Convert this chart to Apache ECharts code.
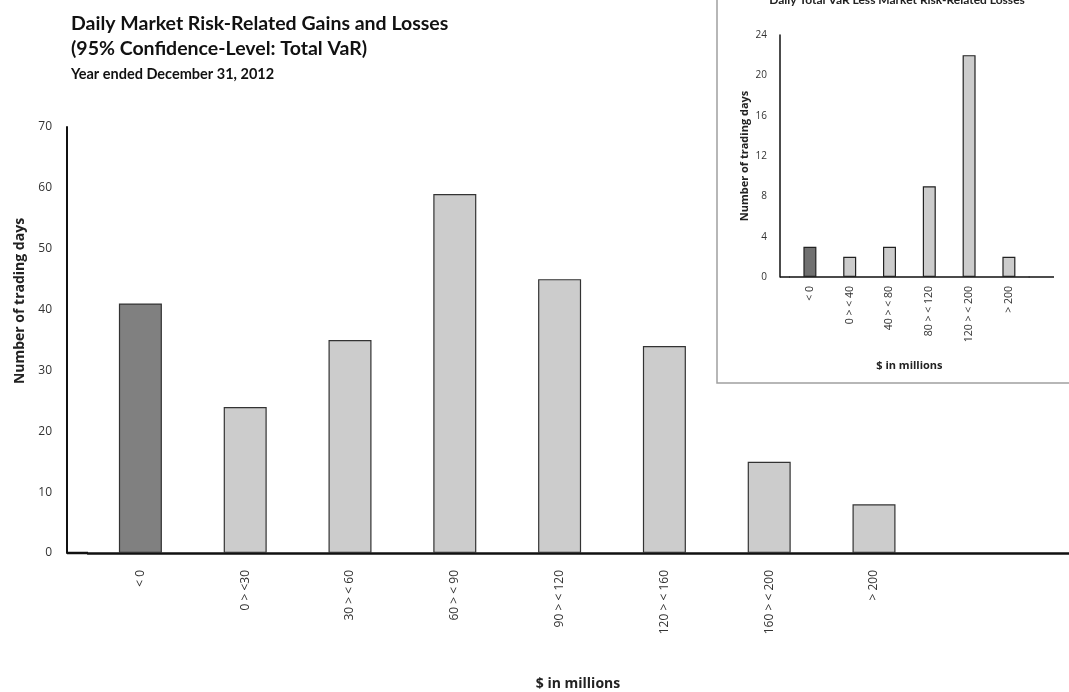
<!DOCTYPE html>
<html>
<head>
<meta charset="utf-8">
<script src="https://cdn.jsdelivr.net/npm/echarts@6/dist/echarts.min.js"></script>
<style>
  html, body { margin: 0; padding: 0; background: #ffffff; }
  #chart { width: 1069px; height: 692px; }
</style>
</head>
<body>
<div id="chart"></div>
<script>
// ---- Data ----
const mainCategories = ['< 0', '0 > <30', '30 > < 60', '60 > < 90', '90 > < 120', '120 > < 160', '160 > < 200', '> 200', '', ''];
const mainTradingDays = [41, 24, 35, 59, 45, 34, 15, 8];
const mainYMin = 0, mainYMax = 70, mainYInterval = 10;

const insetCategories = ['< 0', '0 > < 40', '40 > < 80', '80 > < 120', '120 > < 200', '> 200'];
const insetTradingDays = [3, 2, 3, 9, 22, 2];
const insetYMin = 0, insetYMax = 24, insetYInterval = 4;

const titleLines = ['Daily Market Risk-Related Gains and Losses', '(95% Confidence-Level: Total VaR)', 'Year ended December 31, 2012'];
const insetTitle = 'Daily Total VaR Less Market Risk-Related Losses';
const yAxisName = 'Number of trading days';
const xAxisName = '$ in millions';

// ---- Layout / style ----
const W = 1069, H = 692;
const lossColor = '#808080', gainColor = '#cccccc', insetLossColor = '#707070';
const FONT = 'Open Sans';
const TFONT = 'Lato';

// main grid
const mLeft = 88, mTop = 127, mBottom = 139, mCatW = 104.8;
const mWidth = mCatW * mainCategories.length;
const mYOffset = 21;
// inset grid
const iLeft = 790, iTop = 35, iBottom = H - 277, iCatW = 39.8;
const iWidth = iCatW * insetCategories.length;
const iYOffset = 10;

const chart = echarts.init(document.getElementById('chart'), null, { renderer: 'canvas', width: W, height: H });

const option = {
  backgroundColor: '#ffffff',
  animation: false,
  title: [
    { text: titleLines[0], left: 66, top: 9, textStyle: { fontFamily: TFONT, fontWeight: 'bold', fontSize: 19.5, color: '#111' } },
    { text: titleLines[1], left: 66, top: 34, textStyle: { fontFamily: TFONT, fontWeight: 'bold', fontSize: 19.5, color: '#111' } },
    { text: titleLines[2], left: 66, top: 62, textStyle: { fontFamily: TFONT, fontWeight: 'bold', fontSize: 14.5, color: '#111' } },
    { text: insetTitle, left: 892, textAlign: 'center', top: -11, textStyle: { fontFamily: TFONT, fontWeight: 'bold', fontSize: 12, color: '#222' } }
  ],
  grid: [
    { left: mLeft, top: mTop, bottom: mBottom, width: mWidth, containLabel: false, outerBoundsMode: 'none' },
    { left: iLeft, top: iTop, bottom: iBottom, width: iWidth, containLabel: false, outerBoundsMode: 'none' }
  ],
  xAxis: [
    {
      type: 'category', gridIndex: 0, data: mainCategories, boundaryGap: true,
      axisLine: { show: true, lineStyle: { color: '#111', width: 2.5 } },
      axisTick: { show: false },
      axisLabel: { rotate: 90, margin: 17, interval: 0, fontFamily: FONT, fontSize: 12, color: '#333' },
      name: xAxisName, nameLocation: 'middle', nameGap: 124,
      nameTextStyle: { fontFamily: FONT, fontWeight: 'bold', fontSize: 14, color: '#222', padding: [0, 68, 0, 0] }
    },
    {
      type: 'category', gridIndex: 1, data: insetCategories, boundaryGap: true,
      axisLine: { show: true, lineStyle: { color: '#111', width: 1.5 } },
      axisTick: { show: false },
      axisLabel: { rotate: 90, margin: 9, interval: 0, fontFamily: FONT, fontSize: 10.5, color: '#333' },
      name: xAxisName, nameLocation: 'middle', nameGap: 83,
      nameTextStyle: { fontFamily: FONT, fontWeight: 'bold', fontSize: 11, color: '#222' }
    }
  ],
  yAxis: [
    {
      type: 'value', gridIndex: 0, min: mainYMin, max: mainYMax, interval: mainYInterval, offset: mYOffset,
      axisLine: { show: true, lineStyle: { color: '#111', width: 2 } },
      axisTick: { show: false }, splitLine: { show: false },
      axisLabel: { margin: 15, fontFamily: FONT, fontSize: 12, color: '#333' },
      name: yAxisName, nameLocation: 'middle', nameGap: 40,
      nameTextStyle: { fontFamily: FONT, fontWeight: 'bold', fontSize: 14, color: '#222', padding: [0, 0, 0, 78] }
    },
    {
      type: 'value', gridIndex: 1, min: insetYMin, max: insetYMax, interval: insetYInterval, offset: iYOffset,
      axisLine: { show: true, lineStyle: { color: '#111', width: 1.5 } },
      axisTick: { show: false }, splitLine: { show: false },
      axisLabel: { margin: 13, fontFamily: FONT, fontSize: 10, color: '#333' },
      name: yAxisName, nameLocation: 'middle', nameGap: 30,
      nameTextStyle: { fontFamily: FONT, fontWeight: 'bold', fontSize: 11, color: '#222' }
    }
  ],
  series: [
    {
      type: 'bar', xAxisIndex: 0, yAxisIndex: 0, barWidth: 43,
      data: mainTradingDays,
      itemStyle: {
        color: p => (p.dataIndex === 0 ? lossColor : gainColor),
        borderColor: '#333', borderWidth: 1.2
      }
    },
    {
      type: 'bar', xAxisIndex: 1, yAxisIndex: 1, barWidth: 13,
      data: insetTradingDays,
      itemStyle: {
        color: p => (p.dataIndex === 0 ? insetLossColor : gainColor),
        borderColor: '#222', borderWidth: 1.2
      }
    }
  ],
  graphic: [
    // inset frame
    { type: 'rect', z: -1, shape: { x: 717, y: -10, width: 400, height: 393 }, style: { fill: '#fff', stroke: '#a0a0a0', lineWidth: 1.5 } },
    // baseline extensions between axis corner and first category band
    { type: 'line', shape: { x1: mLeft - mYOffset, y1: H - mBottom, x2: mLeft, y2: H - mBottom }, style: { stroke: '#111', lineWidth: 2.5 } },
    { type: 'line', shape: { x1: iLeft - iYOffset, y1: H - iBottom, x2: iLeft, y2: H - iBottom }, style: { stroke: '#111', lineWidth: 1.5 } },
    { type: 'line', shape: { x1: iLeft + iWidth, y1: H - iBottom, x2: 1054, y2: H - iBottom }, style: { stroke: '#111', lineWidth: 1.5 } }
  ]
};

chart.setOption(option);
</script>
</body>
</html>
